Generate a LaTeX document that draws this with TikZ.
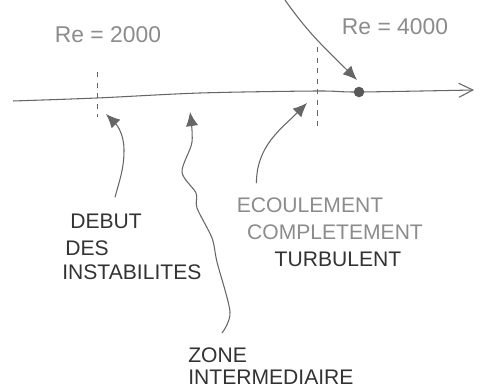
\documentclass[tikz,border=0pt]{standalone}
\usepackage{fontspec}
\setmainfont{Liberation Sans}
\usetikzlibrary{arrows.meta}
\begin{document}
\begin{tikzpicture}[x=0.02cm,y=-0.02cm,
    pencil/.style={draw=black!60,line width=0.6pt},
    soft/.style={text=black!45,font=\fontsize{13}{15}\selectfont},
    caps/.style={text=black!80,font=\fontsize{12}{14}\selectfont,inner sep=0pt},
    tip/.style={-{Latex[length=8pt,width=7pt]}}]
  \useasboundingbox[fill=white] (0,0) rectangle (483,391);
  % axis and marks
  \coordinate (axL) at (13,101);
  \coordinate (axR) at (474,90);
  \draw[pencil,-{Straight Barb[length=8pt,width=8pt]}] plot[smooth] coordinates {(axL) (97,98) (200,93) (317,91) (359,92) (axR)};
  \draw[pencil,dashed,line width=0.5pt] (97,72) -- (97,117);
  \draw[pencil,dashed,line width=0.5pt] (317,47) -- (317,127);
  \node[circle,fill=black!65,inner sep=0pt,minimum size=6pt] (crit) at (359,92) {};
  \node[soft] (re1) at (108,35) {Re = 2000};
  \node[soft] (re2) at (395,27) {Re = 4000};
  % texts
  \node[caps,anchor=west] (debut) at (70,221) {DEBUT};
  \node[caps,anchor=west] (des) at (65,248) {DES};
  \node[caps,anchor=west] (instab) at (62,272) {INSTABILITES};
  \node[caps,text=black!45] (ecoul) at (310,205) {ECOULEMENT};
  \node[caps,text=black!45] (compl) at (335,232) {COMPLETEMENT};
  \node[caps] (turb) at (338,259) {TURBULENT};
  \node[caps,anchor=west] (zone) at (188,355) {ZONE};
  \node[caps,anchor=west] (inter) at (188,377) {INTERMEDIAIRE};
  % arrows to the axis
  \coordinate (p1) at (106,114);
  \coordinate (p2) at (190,112);
  \coordinate (p3) at (307,103);
  \coordinate (p4) at (357,80);
  \coordinate (top) at (285,0);
  \draw[pencil,tip] (debut.north west) ++(45,-16) to[out=75,in=-90] (124,150) to[out=90,in=-45] (p1);
  \draw[pencil,tip] plot[smooth] coordinates {(222,333) (230,312) (217,262) (212,238) (197,208) (196,193) (182,172) (192,142) (p2)};
  \draw[pencil,tip] (ecoul.north west) ++(20,-14) to[out=90,in=-135] (p3);
  \draw[pencil,tip] (top) to[out=-55,in=135] (p4);
\end{tikzpicture}
\end{document}
